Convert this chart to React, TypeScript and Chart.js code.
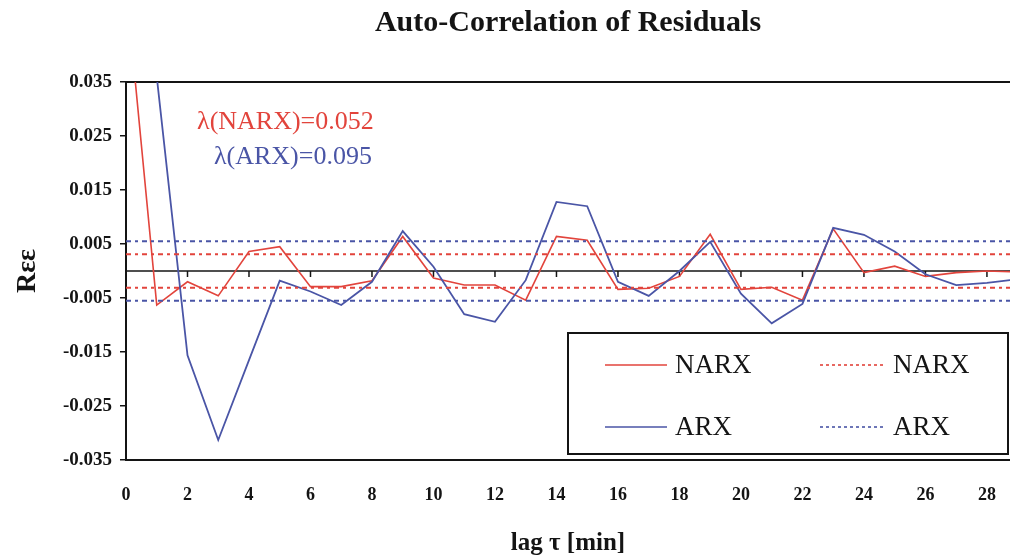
import React, { useEffect, useRef } from "react";
import { Chart, registerables } from "chart.js";

Chart.register(...registerables);

// ---- data ----
const LAGS = [0, 1, 2, 3, 4, 5, 6, 7, 8, 9, 10, 11, 12, 13, 14, 15, 16, 17, 18, 19, 20, 21, 22, 23, 24, 25, 26, 27, 28, 29];
const NARX_R = [0.053, -0.0063, -0.002, -0.0046, 0.0036, 0.0045, -0.0029, -0.0029, -0.0018, 0.0064, -0.0013, -0.0026, -0.0026, -0.0054, 0.0064, 0.0057, -0.0034, -0.0032, -0.001, 0.0068, -0.0034, -0.003, -0.0054, 0.0078, -0.0003, 0.0009, -0.001, -0.0003, 0.0, -0.0002];
const ARX_R = [0.2, 0.036, -0.0156, -0.0313, -0.0165, -0.0018, -0.0038, -0.0063, -0.002, 0.0074, 0.0008, -0.008, -0.0094, -0.0017, 0.0128, 0.012, -0.002, -0.0046, 0.0, 0.0054, -0.0042, -0.0097, -0.0061, 0.008, 0.0067, 0.0036, -0.0006, -0.0026, -0.0022, -0.0015];
const NARX_BOUND = 0.0031;
const ARX_BOUND = 0.0055;
const BOUND_LAGS = [0, 29];
const X_TICKS = [0, 2, 4, 6, 8, 10, 12, 14, 16, 18, 20, 22, 24, 26, 28];
const Y_TICKS = [-0.035, -0.025, -0.015, -0.005, 0.005, 0.015, 0.025, 0.035];
const SERIES_NAMES = ["NARX", "ARX"];
const LAMBDA_TEXTS = ["λ(NARX)=0.052", "λ(ARX)=0.095"];
const LAMBDA_POS = [
  { lag: 2.31, r: 0.0276 },
  { lag: 2.86, r: 0.0211 },
];
const TITLE = "Auto-Correlation of Residuals";
const X_TITLE = "lag τ [min]";
const Y_TITLE = "Rεε";

const RED = "#e2443c";
const BLUE = "#4a55a6";
const INK = "#141414";
const SERIF = "'Liberation Serif', 'Times New Roman', serif";
const DASH = [5, 4, 3, 4];

const framePlugin = {
  id: "frame",
  beforeDatasetsDraw(chart: any) {
    const { ctx, chartArea, scales } = chart;
    const x = scales.x;
    const y = scales.y;
    ctx.save();
    ctx.strokeStyle = INK;
    ctx.lineWidth = 2;
    ctx.beginPath();
    ctx.moveTo(chartArea.left, chartArea.top);
    ctx.lineTo(chartArea.right, chartArea.top);
    ctx.stroke();
    const y0 = y.getPixelForValue(0);
    ctx.lineWidth = 1.5;
    ctx.beginPath();
    ctx.moveTo(chartArea.left, y0);
    ctx.lineTo(chartArea.right, y0);
    ctx.stroke();
    X_TICKS.forEach((t) => {
      const px = x.getPixelForValue(t);
      ctx.beginPath();
      ctx.moveTo(px, y0);
      ctx.lineTo(px, y0 + 6);
      ctx.stroke();
    });
    ctx.restore();
  },
  afterDatasetsDraw(chart: any) {
    const { ctx, chartArea, scales } = chart;
    const x = scales.x;
    const y = scales.y;
    ctx.save();
    // lambda annotations
    ctx.font = `26px ${SERIF}`;
    ctx.textAlign = "left";
    ctx.textBaseline = "middle";
    LAMBDA_TEXTS.forEach((txt, i) => {
      ctx.fillStyle = i === 0 ? RED : BLUE;
      ctx.fillText(txt, x.getPixelForValue(LAMBDA_POS[i].lag), y.getPixelForValue(LAMBDA_POS[i].r));
    });
    // legend box
    const bw = 440;
    const bh = 121;
    const bl = chartArea.right - 442;
    const bt = chartArea.top + 251;
    ctx.fillStyle = "#ffffff";
    ctx.fillRect(bl, bt, bw, bh);
    ctx.strokeStyle = INK;
    ctx.lineWidth = 2;
    ctx.strokeRect(bl, bt, bw, bh);
    const rows = [bt + 32, bt + 94];
    const cols = [
      { x0: bl + 37, x1: bl + 99, tx: bl + 107, dash: [] as number[] },
      { x0: bl + 252, x1: bl + 317, tx: bl + 325, dash: [3, 3] },
    ];
    ctx.font = `27px ${SERIF}`;
    SERIES_NAMES.forEach((name, r) => {
      cols.forEach((c) => {
        ctx.strokeStyle = r === 0 ? RED : BLUE;
        ctx.lineWidth = 1.6;
        ctx.setLineDash(c.dash);
        ctx.beginPath();
        ctx.moveTo(c.x0, rows[r]);
        ctx.lineTo(c.x1, rows[r]);
        ctx.stroke();
        ctx.setLineDash([]);
        ctx.fillStyle = INK;
        ctx.fillText(name, c.tx, rows[r] + 1);
      });
    });
    ctx.restore();
  },
};

export default function App() {
  const ref = useRef<HTMLCanvasElement | null>(null);
  useEffect(() => {
    if (!ref.current) return;
    const pts = (vals: number[]) => LAGS.map((l, i) => ({ x: l, y: vals[i] }));
    const bound = (v: number) => BOUND_LAGS.map((l) => ({ x: l, y: v }));
    const chart = new Chart(ref.current, {
      type: "line",
      data: {
        datasets: [
          { label: "NARX bound +", data: bound(NARX_BOUND), borderColor: RED, borderWidth: 2, borderDash: DASH, pointRadius: 0 },
          { label: "NARX bound -", data: bound(-NARX_BOUND), borderColor: RED, borderWidth: 2, borderDash: DASH, pointRadius: 0 },
          { label: "ARX bound +", data: bound(ARX_BOUND), borderColor: BLUE, borderWidth: 2, borderDash: DASH, pointRadius: 0 },
          { label: "ARX bound -", data: bound(-ARX_BOUND), borderColor: BLUE, borderWidth: 2, borderDash: DASH, pointRadius: 0 },
          { label: SERIES_NAMES[1], data: pts(ARX_R), borderColor: BLUE, borderWidth: 1.8, pointRadius: 0, tension: 0 },
          { label: SERIES_NAMES[0], data: pts(NARX_R), borderColor: RED, borderWidth: 1.6, pointRadius: 0, tension: 0 },
        ],
      },
      options: {
        responsive: false,
        animation: false,
        events: [],
        layout: { padding: 0 },
        plugins: {
          legend: { display: false },
          tooltip: { enabled: false },
          title: {
            display: true,
            fullSize: false,
            text: TITLE,
            color: INK,
            font: { family: SERIF, size: 30, weight: "bold", lineHeight: 1.2 },
            padding: { top: 5, bottom: 41 },
          },
        },
        scales: {
          x: {
            type: "linear",
            min: 0,
            max: 28.75,
            afterBuildTicks: (s: any) => {
              s.ticks = X_TICKS.map((v) => ({ value: v }));
            },
            afterFit: (s: any) => {
              s.height = 99;
              s.paddingLeft = 0;
              s.paddingRight = 0;
            },
            ticks: {
              color: INK,
              font: { family: SERIF, size: 18, weight: "bold" },
              padding: 25,
              maxRotation: 0,
              autoSkip: false,
            },
            grid: { drawOnChartArea: false, drawTicks: false },
            border: { display: true, color: INK, width: 2 },
            title: {
              display: true,
              text: X_TITLE,
              color: INK,
              font: { family: SERIF, size: 25, weight: "bold", lineHeight: 1.2 },
              padding: { top: 0, bottom: 0 },
            },
          },
          y: {
            type: "linear",
            min: -0.035,
            max: 0.035,
            afterBuildTicks: (s: any) => {
              s.ticks = Y_TICKS.map((v) => ({ value: v }));
            },
            afterFit: (s: any) => {
              s.width = 126;
            },
            ticks: {
              color: INK,
              font: { family: SERIF, size: 19, weight: "bold" },
              padding: 8,
              callback: (v: any) => Number(v).toFixed(3),
            },
            grid: { drawOnChartArea: false, drawTicks: true, tickLength: 6, color: INK, lineWidth: 1.5 },
            border: { display: true, color: INK, width: 2 },
            title: {
              display: true,
              text: Y_TITLE,
              color: INK,
              font: { family: SERIF, size: 28, weight: "bold", lineHeight: 1.2 },
              padding: { top: 11, bottom: 0 },
            },
          },
        },
      },
      plugins: [framePlugin],
    } as any);
    return () => chart.destroy();
  }, []);
  return (
    <div style={{ position: "fixed", left: 0, top: 0, width: 1010, height: 559, background: "#ffffff" }}>
      <canvas ref={ref} width={1010} height={559} style={{ display: "block" }} />
    </div>
  );
}
